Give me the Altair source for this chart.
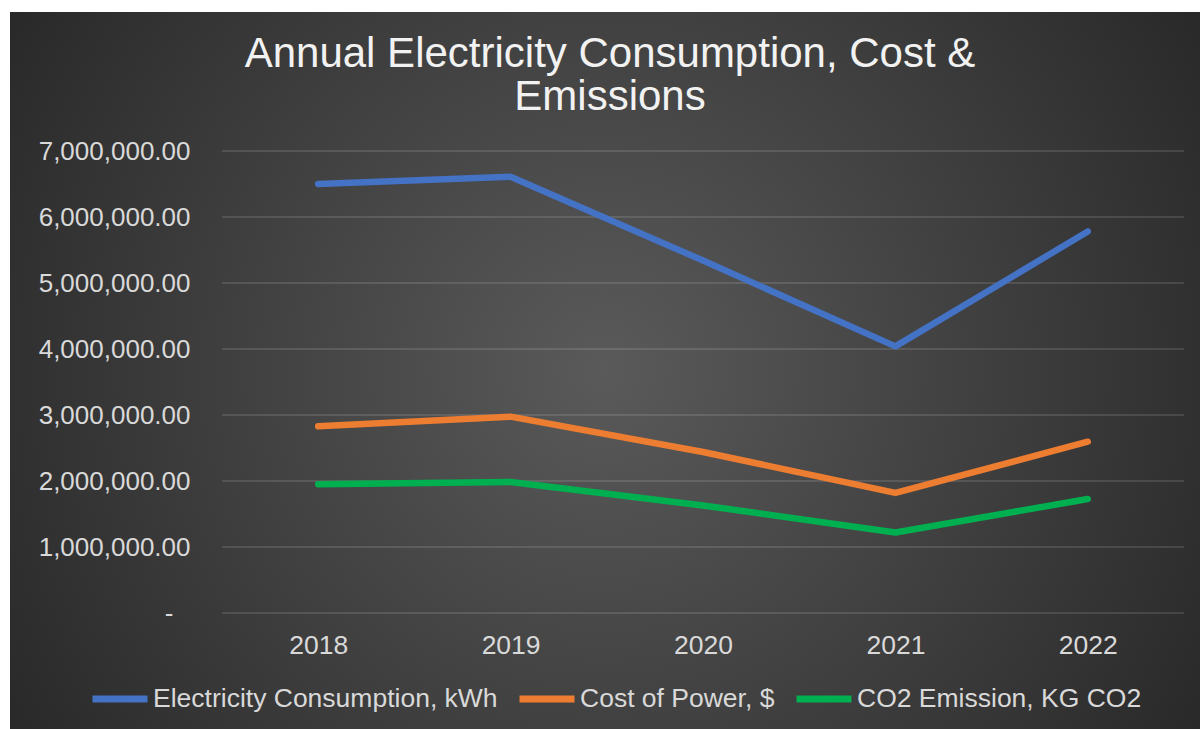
import altair as alt
import pandas as pd

years = ["2018", "2019", "2020", "2021", "2022"]
electricity_kwh = [6500000, 6610000, 5340000, 4040000, 5780000]
cost_of_power = [2830000, 2975000, 2440000, 1820000, 2595000]
co2_emission = [1950000, 1985000, 1630000, 1220000, 1727000]

series_names = ["Electricity Consumption, kWh", "Cost of Power, $", "CO2 Emission, KG CO2"]
series_colors = ["#4472C4", "#ED7D31", "#00B050"]
y_ticks = [0, 1000000, 2000000, 3000000, 4000000, 5000000, 6000000, 7000000]

rows = []
for name, vals in zip(series_names, [electricity_kwh, cost_of_power, co2_emission]):
    for yr, v in zip(years, vals):
        rows.append({"Year": yr, "Series": name, "Value": v, "order": series_names.index(name)})
df = pd.DataFrame(rows)
grid_df = pd.DataFrame({"Value": y_ticks})

W, H = 962, 462
PL, PT, PR, PB = 222, 151, 16, 116

y_scale = alt.Scale(domain=[0, 7000000], nice=False)
y_axis = alt.Axis(title=None, values=y_ticks, ticks=False, domain=False, grid=False,
                  labelExpr="datum.value == 0 ? '-' : format(datum.value, ',.2f')",
                  labelFontSize=26, labelColor="#d9d9d9",
                  labelPadding={"condition": {"test": "datum.value == 0", "value": 49}, "value": 32},
                  labelFont="Liberation Sans", zindex=1)

bg = alt.Chart(pd.DataFrame({"a": [0]})).mark_rect(
    fill={
        "gradient": "radial",
        "x1": 0.5, "y1": 0.5, "r1": 0,
        "x2": 0.5, "y2": 0.5, "r2": 0.62,
        "stops": [
            {"offset": 0, "color": "#5a5a5a"},
            {"offset": 1, "color": "#262626"},
        ],
    }
).encode(
    x=alt.value(-(PL - 10)),
    x2=alt.value(W + PR),
    y=alt.value(-(PT - 12)),
    y2=alt.value(H + PB),
)

grid = alt.Chart(grid_df).mark_rule(color="#ffffff", opacity=0.16, strokeWidth=1.5).encode(
    y=alt.Y("Value:Q", scale=y_scale, axis=y_axis),
)

lines = alt.Chart(df).mark_line(strokeWidth=6.5, strokeCap="round", strokeJoin="round").encode(
    x=alt.X("Year:N", sort=years,
            scale=alt.Scale(paddingInner=0, paddingOuter=0),
            axis=alt.Axis(title=None, labelAngle=0, ticks=False, domain=False, grid=False,
                          labelFontSize=26.5, labelColor="#d9d9d9", labelPadding=19,
                          labelFont="Liberation Sans", zindex=1)),
    y=alt.Y("Value:Q", scale=y_scale, axis=y_axis),
    color=alt.Color("Series:N",
                    scale=alt.Scale(domain=series_names, range=series_colors),
                    legend=alt.Legend(title=None, orient="none", direction="horizontal",
                                      legendX=-(PL - 89), legendY=517,
                                      symbolType="stroke", symbolSize=3025, symbolStrokeWidth=7,
                                      labelFontSize=26.5, labelColor="#d9d9d9",
                                      labelFont="Liberation Sans", labelOffset=2, labelLimit=600,
                                      columnPadding=7, columns=3)),
    order=alt.Order("order:Q"),
)

chart = alt.layer(bg, grid, lines).properties(
    width=W, height=H,
    background="#ffffff",
    padding={"left": PL, "top": PT, "right": PR, "bottom": PB},
    autosize=alt.AutoSizeParams(type="none"),
    title=alt.TitleParams(
        text=["Annual Electricity Consumption, Cost &", "Emissions"],
        anchor="middle", dx=-93, offset=-107,
        fontSize=42, lineHeight=43, font="Liberation Sans", fontWeight="normal",
        color="#f2f2f2",
    ),
).configure_view(stroke=None)

chart.save("out.html", embed_options={"renderer": "svg", "actions": False})
